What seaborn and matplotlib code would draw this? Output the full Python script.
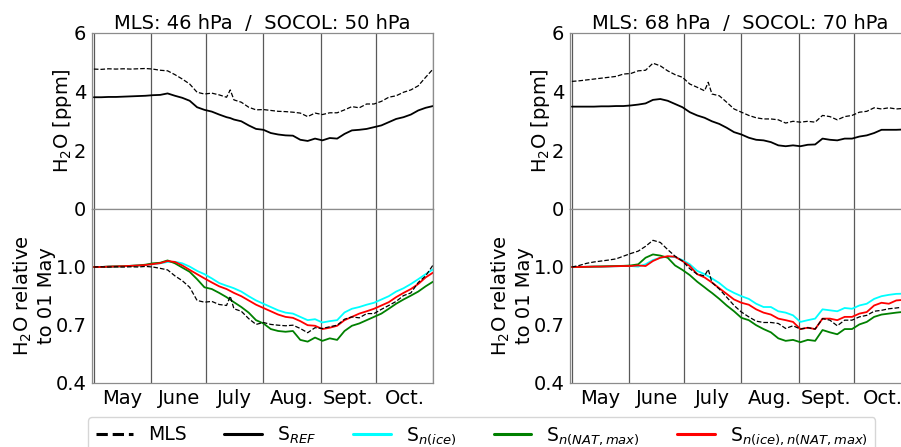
import matplotlib
matplotlib.use("Agg")
import matplotlib.pyplot as plt
from matplotlib.lines import Line2D
import numpy as np
import pandas as pd
import seaborn as sns

sns.set_style("white")
plt.rcParams["font.family"] = ["DejaVu Sans"]
plt.rcParams["mathtext.fontset"] = "dejavusans"
for k in ["text.color", "axes.labelcolor", "xtick.color", "ytick.color"]:
    plt.rcParams[k] = "black"

# days since 01 May
days = [0, 4, 8, 12, 16, 20, 24, 28, 32, 36, 40, 44, 48, 52, 56, 60, 64, 68, 72, 74,
        76, 80, 84, 88, 92, 96, 100, 104, 108, 112, 116, 120, 124, 128, 132, 136, 140,
        144, 148, 152, 156, 160, 164, 168, 172, 176, 180, 184]

month_starts = [0, 31, 61, 92, 123, 153, 184]
month_labels = ["May", "June", "July", "Aug.", "Sept.", "Oct."]
titles = ["MLS: 46 hPa  /  SOCOL: 50 hPa", "MLS: 68 hPa  /  SOCOL: 70 hPa"]

# ---- left panel (46/50 hPa) ----
L_mls_ppm = [4.77, 4.76, 4.78, 4.77, 4.78, 4.77, 4.78, 4.79, 4.77, 4.73, 4.71, 4.58, 4.43, 4.26,
             3.98, 3.92, 3.95, 3.89, 3.81, 4.06, 3.72, 3.64, 3.47, 3.38, 3.39, 3.36, 3.33, 3.32,
             3.30, 3.27, 3.15, 3.27, 3.22, 3.28, 3.28, 3.38, 3.49, 3.45, 3.58, 3.58, 3.67, 3.81,
             3.86, 3.98, 4.06, 4.20, 4.49, 4.77]
L_ref_ppm = [3.81, 3.81, 3.82, 3.82, 3.83, 3.84, 3.85, 3.86, 3.88, 3.89, 3.94, 3.86, 3.79, 3.69,
             3.47, 3.38, 3.32, 3.22, 3.13, 3.10, 3.05, 2.99, 2.85, 2.73, 2.70, 2.59, 2.54, 2.51,
             2.50, 2.36, 2.32, 2.40, 2.34, 2.42, 2.40, 2.56, 2.68, 2.70, 2.73, 2.79, 2.85, 2.96,
             3.07, 3.13, 3.22, 3.36, 3.45, 3.51]
L_mls_rel = [1.000, 1.001, 1.000, 1.001, 1.000, 1.001, 1.000, 1.003, 1.000, 0.993, 0.985, 0.954,
             0.929, 0.895, 0.827, 0.818, 0.822, 0.806, 0.801, 0.849, 0.784, 0.771, 0.733, 0.703,
             0.713, 0.703, 0.699, 0.696, 0.699, 0.682, 0.660, 0.686, 0.682, 0.691, 0.699, 0.730,
             0.742, 0.737, 0.759, 0.759, 0.781, 0.801, 0.822, 0.852, 0.866, 0.920, 0.954, 1.010]
L_ice_rel = [1.000, 1.000, 1.002, 1.003, 1.004, 1.006, 1.008, 1.010, 1.015, 1.019, 1.026, 1.027,
             1.019, 1.002, 0.980, 0.963, 0.941, 0.917, 0.903, 0.897, 0.890, 0.873, 0.849, 0.827,
             0.810, 0.793, 0.776, 0.764, 0.759, 0.742, 0.725, 0.730, 0.713, 0.720, 0.725, 0.765,
             0.784, 0.793, 0.805, 0.815, 0.832, 0.849, 0.873, 0.890, 0.912, 0.937, 0.963, 0.988]
L_nat_rel = [1.000, 1.000, 1.002, 1.003, 1.004, 1.006, 1.008, 1.012, 1.019, 1.022, 1.034, 1.019,
             0.997, 0.975, 0.937, 0.895, 0.886, 0.866, 0.844, 0.831, 0.818, 0.793, 0.764, 0.725,
             0.708, 0.679, 0.669, 0.665, 0.669, 0.623, 0.614, 0.635, 0.618, 0.631, 0.623, 0.669,
             0.696, 0.708, 0.725, 0.742, 0.759, 0.784, 0.810, 0.832, 0.852, 0.873, 0.900, 0.924]
L_both_rel = [1.000, 1.000, 1.002, 1.003, 1.004, 1.006, 1.008, 1.010, 1.015, 1.020, 1.031, 1.026,
              1.008, 0.985, 0.963, 0.941, 0.920, 0.900, 0.886, 0.876, 0.866, 0.849, 0.827, 0.805,
              0.788, 0.771, 0.754, 0.742, 0.737, 0.720, 0.699, 0.696, 0.679, 0.686, 0.696, 0.725,
              0.742, 0.759, 0.771, 0.784, 0.801, 0.818, 0.844, 0.866, 0.886, 0.912, 0.946, 0.971]

# ---- right panel (68/70 hPa) ----
R_mls_ppm = [4.35, 4.37, 4.40, 4.43, 4.46, 4.49, 4.52, 4.60, 4.62, 4.71, 4.73, 4.97, 4.88, 4.71,
             4.58, 4.49, 4.26, 4.15, 4.03, 4.32, 3.92, 3.86, 3.64, 3.41, 3.30, 3.19, 3.11, 3.07,
             3.07, 3.04, 2.93, 2.99, 2.96, 2.99, 2.96, 3.19, 3.15, 3.04, 3.15, 3.19, 3.30, 3.33,
             3.45, 3.41, 3.45, 3.41, 3.43, 3.45]
R_ref_ppm = [3.49, 3.49, 3.49, 3.49, 3.50, 3.50, 3.51, 3.51, 3.53, 3.56, 3.60, 3.72, 3.75, 3.69,
             3.58, 3.47, 3.30, 3.19, 3.11, 3.05, 2.99, 2.90, 2.77, 2.62, 2.54, 2.43, 2.36, 2.34,
             2.28, 2.17, 2.14, 2.17, 2.14, 2.19, 2.20, 2.40, 2.36, 2.34, 2.40, 2.40, 2.47, 2.51,
             2.59, 2.70, 2.70, 2.70, 2.71, 2.71]
R_mls_rel = [1.000, 1.008, 1.019, 1.026, 1.031, 1.036, 1.042, 1.056, 1.070, 1.082, 1.107, 1.138,
             1.127, 1.090, 1.056, 1.031, 0.991, 0.963, 0.954, 0.988, 0.920, 0.886, 0.844, 0.801,
             0.767, 0.742, 0.720, 0.713, 0.713, 0.708, 0.682, 0.696, 0.679, 0.686, 0.679, 0.733,
             0.725, 0.696, 0.725, 0.725, 0.742, 0.750, 0.771, 0.776, 0.784, 0.788, 0.793, 0.793]
R_ice_rel = [1.000, 1.000, 1.001, 1.002, 1.002, 1.003, 1.004, 1.005, 1.005, 1.002, 1.014, 1.036,
             1.048, 1.053, 1.051, 1.036, 1.014, 0.980, 0.963, 0.952, 0.941, 0.917, 0.886, 0.866,
             0.849, 0.835, 0.810, 0.793, 0.793, 0.771, 0.764, 0.750, 0.716, 0.725, 0.733, 0.781,
             0.776, 0.771, 0.788, 0.784, 0.801, 0.810, 0.835, 0.849, 0.856, 0.861, 0.862, 0.864]
R_nat_rel = [1.000, 1.000, 1.001, 1.002, 1.003, 1.004, 1.005, 1.006, 1.008, 1.014, 1.048, 1.065,
             1.059, 1.048, 1.008, 0.985, 0.958, 0.924, 0.895, 0.880, 0.866, 0.835, 0.801, 0.771,
             0.737, 0.725, 0.699, 0.679, 0.662, 0.631, 0.618, 0.623, 0.611, 0.623, 0.618, 0.674,
             0.662, 0.652, 0.679, 0.679, 0.703, 0.716, 0.742, 0.754, 0.759, 0.764, 0.768, 0.771]
R_both_rel = [1.000, 1.000, 1.001, 1.002, 1.002, 1.003, 1.004, 1.005, 1.005, 1.008, 1.005, 1.031,
              1.048, 1.056, 1.053, 1.031, 1.005, 0.963, 0.946, 0.933, 0.920, 0.890, 0.861, 0.832,
              0.815, 0.805, 0.781, 0.764, 0.754, 0.733, 0.725, 0.716, 0.679, 0.686, 0.679, 0.733,
              0.733, 0.725, 0.742, 0.742, 0.759, 0.767, 0.801, 0.815, 0.810, 0.827, 0.830, 0.832]

panels = [
    dict(title=titles[0], mls=L_mls_ppm, ref=L_ref_ppm, mls_r=L_mls_rel,
         ice=L_ice_rel, nat=L_nat_rel, both=L_both_rel),
    dict(title=titles[1], mls=R_mls_ppm, ref=R_ref_ppm, mls_r=R_mls_rel,
         ice=R_ice_rel, nat=R_nat_rel, both=R_both_rel),
]

C_ICE, C_NAT, C_BOTH = "#00FFFF", "#008000", "#FF0000"
FS = 14
GRID_C = "0.35"
SPINE_C = "0.55"

fig = plt.figure(figsize=(9.01, 4.47), dpi=100)
lefts = [92 / 901, 570 / 901]
W = 341 / 901
mid = [(a + b) / 2 for a, b in zip(month_starts[:-1], month_starts[1:])]


def style_axis(ax, show_labels):
    ax.set_xlim(-1, 184)
    ax.set_xticks(month_starts)
    ax.set_xticklabels([])
    ax.set_xticks(mid, minor=True)
    if show_labels:
        ax.set_xticklabels(month_labels, minor=True, fontsize=FS)
    else:
        ax.set_xticklabels([], minor=True)
    ax.tick_params(which="both", length=0, pad=4, labelsize=FS, colors="black")
    ax.grid(axis="x", which="major", color=GRID_C, lw=0.9)
    ax.grid(axis="y", visible=False)
    for s in ax.spines.values():
        s.set_color(SPINE_C)
        s.set_linewidth(0.9)


for i, p in enumerate(panels):
    ax_up = fig.add_axes([lefts[i], 1 - 209 / 447, W, 176 / 447])
    ax_lo = fig.add_axes([lefts[i], 1 - 383 / 447, W, 174 / 447])

    sns.lineplot(x=days, y=p["mls"], ax=ax_up, color="black", lw=0.9,
                 linestyle="--", legend=False)
    sns.lineplot(x=days, y=p["ref"], ax=ax_up, color="black", lw=1.3, legend=False)
    ax_up.set_ylim(0, 6)
    ax_up.set_yticks([0, 2, 4, 6])
    ax_up.set_yticklabels(["0", "2", "4", "6"])
    ax_up.set_ylabel("H$_2$O [ppm]", fontsize=FS, labelpad=0)
    ax_up.set_title(p["title"], fontsize=FS, pad=3)
    style_axis(ax_up, False)

    sns.lineplot(x=days, y=p["ice"], ax=ax_lo, color=C_ICE, lw=1.3, legend=False)
    sns.lineplot(x=days, y=p["nat"], ax=ax_lo, color=C_NAT, lw=1.3, legend=False)
    sns.lineplot(x=days, y=p["both"], ax=ax_lo, color=C_BOTH, lw=1.3, legend=False)
    sns.lineplot(x=days, y=p["mls_r"], ax=ax_lo, color="black", lw=0.9,
                 linestyle="--", legend=False)
    ax_lo.set_ylim(0.4, 1.3)
    ax_lo.set_yticks([0.4, 0.7, 1.0])
    ax_lo.set_yticklabels(["0.4", "0.7", "1.0"])
    ax_lo.set_ylabel("H$_2$O relative\nto 01 May", fontsize=FS, labelpad=0)
    style_axis(ax_lo, True)

handles = [
    Line2D([], [], color="black", lw=2.2, linestyle="--"),
    Line2D([], [], color="black", lw=2.2),
    Line2D([], [], color=C_ICE, lw=2.2),
    Line2D([], [], color=C_NAT, lw=2.2),
    Line2D([], [], color=C_BOTH, lw=2.2),
]
labels = ["MLS", "S$_{REF}$", "S$_{n(ice)}$", "S$_{n(NAT,max)}$",
          "S$_{n(ice),n(NAT,max)}$"]
fig.legend(handles, labels, loc="upper left", bbox_to_anchor=(88 / 901, 1 - 417 / 447),
           ncol=5, fontsize=13.5, frameon=True, borderaxespad=0, fancybox=True,
           edgecolor="0.8")

fig.savefig("out.png", dpi=100)
